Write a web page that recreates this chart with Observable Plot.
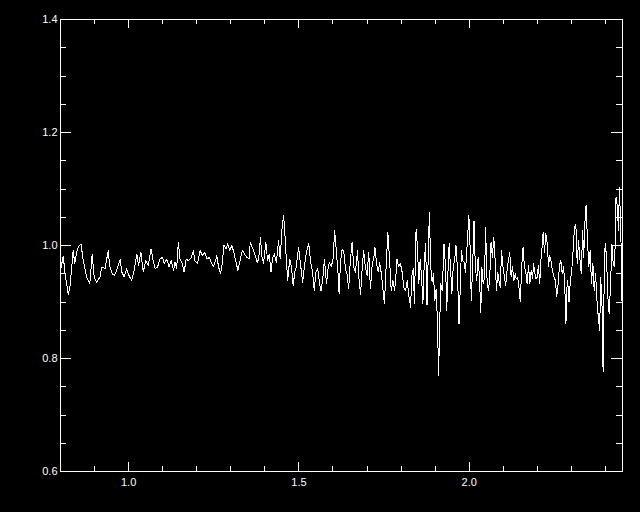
<!DOCTYPE html>
<html>
<head>
<meta charset="utf-8">
<script src="https://cdn.jsdelivr.net/npm/d3@7"></script>
<script src="https://cdn.jsdelivr.net/npm/@observablehq/plot@0.6"></script>
<style>
  html, body { margin: 0; padding: 0; background: #000; }
  #chart { width: 640px; height: 512px; }
</style>
</head>
<body>
<div id="chart"></div>
<script>
// Wavelength (x) and relative flux (y)
const wavelength = [
  0.801,0.808,0.813,0.818,0.823,0.828,0.833,0.837,0.842,0.847,0.852,0.860,0.867,0.877,0.886,0.893,0.899,0.906,0.916,0.921,
  0.931,0.940,0.945,0.952,0.958,0.965,0.975,0.980,0.987,0.994,1.001,1.009,1.016,1.024,1.029,1.036,1.043,1.050,1.058,1.066,
  1.073,1.078,
  1.085,1.092,1.099,1.105,1.112,1.119,1.125,1.132,1.136,1.141,1.146,1.151,1.156,1.163,1.169,1.176,1.184,1.190,1.195,1.202,
  1.210,1.217,1.223,1.230,1.237,1.242,1.249,1.254,1.259,1.264,1.270,1.274,1.280,1.286,1.291,1.297,1.303,1.309,1.315,1.321,
  1.328,1.334,1.340,1.347,1.354,
  1.357,1.365,1.372,1.377,1.382,1.387,1.391,1.396,1.403,1.408,1.413,1.418,1.423,1.428,1.434,1.440,1.445,1.450,1.455,1.458,
  1.463,1.467,1.473,1.478,1.483,1.488,1.492,1.499,1.504,1.511,1.516,1.522,1.529,1.534,1.540,1.545,1.550,1.555,1.560,1.565,
  1.570,1.575,1.581,1.586,1.590,1.595,1.600,1.605,1.610,1.615,1.618,1.622,1.627,1.632,
  1.637,1.641,1.646,1.651,1.656,1.661,1.666,1.672,1.676,1.681,1.686,1.690,1.695,1.700,1.705,1.710,1.715,1.720,1.723,1.728,
  1.733,1.737,1.742,1.747,1.751,1.756,1.761,1.766,1.771,1.776,1.781,1.786,1.788,1.793,1.798,1.803,1.808,1.813,1.818,1.823,
  1.828,1.831,1.836,1.839,1.844,1.848,1.852,1.856,1.860,1.864,1.868,1.872,1.876,1.880,1.883,1.887,1.891,1.895,1.899,1.903,
  1.907,1.910,1.913,1.916,
  1.921,1.926,1.931,1.934,1.937,1.941,1.945,1.949,1.953,1.957,1.961,1.965,1.970,1.973,1.977,1.981,1.985,1.989,1.994,1.999,
  2.002,2.006,2.010,2.014,2.018,2.022,2.026,2.030,2.034,2.037,2.041,2.045,2.048,2.052,2.056,2.060,2.064,2.068,2.072,2.076,
  2.080,2.084,2.087,2.091,2.095,2.099,2.103,2.107,2.111,2.115,2.119,2.123,2.127,2.131,2.135,2.138,2.142,2.146,2.150,2.154,
  2.158,2.162,2.166,2.170,2.174,2.178,2.182,2.186,2.189,2.195,
  2.200,2.203,2.207,2.211,2.214,2.217,2.221,2.225,2.229,2.233,2.236,2.240,2.244,2.249,2.253,2.257,2.261,2.265,2.269,2.273,
  2.277,2.280,2.284,2.286,2.289,2.293,2.297,2.301,2.305,2.309,2.313,2.317,2.321,2.325,2.329,2.333,2.336,2.340,2.343,2.347,
  2.351,2.355,2.359,2.363,2.367,2.371,2.375,2.379,2.383,2.386,2.390,2.393,2.396,2.399,2.403,2.407,2.411,2.415,2.419,2.423,
  2.427,2.431,2.435,2.438,2.441,2.445,2.448,2.450
];
const flux = [
  0.959,0.981,0.953,0.932,0.913,0.929,0.962,0.991,0.968,0.988,0.997,1.003,0.973,0.944,0.932,0.985,0.944,0.935,0.944,0.962,
  0.959,0.991,0.962,0.950,0.947,0.956,0.975,0.953,0.944,0.959,0.947,0.938,0.956,0.985,0.965,0.988,0.953,0.973,0.965,0.994,
  0.970,0.959,
  0.962,0.976,0.979,0.968,0.976,0.962,0.973,0.956,0.971,0.959,1.006,0.976,0.971,0.953,0.976,0.973,0.979,0.991,0.973,0.968,
  0.991,0.982,0.988,0.976,0.979,0.971,0.962,0.971,0.982,0.962,0.950,0.965,1.000,0.994,1.003,0.991,1.000,0.988,0.971,0.956,
  0.976,0.991,0.985,0.979,0.976,
  1.006,0.994,0.982,0.970,0.976,1.015,0.982,0.968,1.006,0.973,0.985,0.953,0.979,0.985,0.970,1.009,0.976,1.027,1.054,1.030,
  0.976,0.938,0.976,0.962,0.929,0.953,0.962,0.997,0.970,0.935,0.962,0.988,1.003,0.973,0.953,0.920,0.953,0.959,0.935,0.919,
  0.941,0.976,0.932,0.962,0.970,0.962,0.976,1.027,0.988,0.950,0.914,0.970,0.994,0.988,
  0.956,0.950,0.923,0.973,1.006,0.962,0.953,0.991,0.944,0.914,0.962,0.991,0.962,0.947,0.988,0.923,0.965,0.979,0.997,0.968,
  0.953,0.970,0.950,0.920,0.897,0.962,1.024,0.976,0.920,0.938,0.920,0.956,0.976,0.962,0.968,0.953,0.926,0.920,0.938,0.909,
  0.891,0.944,0.959,0.897,1.029,0.997,0.932,0.976,0.944,0.897,0.970,1.003,0.894,0.991,1.059,0.962,0.935,0.950,0.903,0.923,
  0.858,0.770,0.850,0.932,
  0.920,1.003,0.956,0.885,0.944,1.003,0.962,0.914,0.962,0.973,1.000,0.962,0.861,0.914,0.991,0.973,0.970,0.953,1.003,1.053,
  1.009,0.903,0.962,1.044,0.962,0.938,0.979,0.944,0.882,0.962,0.932,0.944,1.032,0.944,0.920,0.938,1.006,0.979,1.015,0.976,
  0.920,0.953,0.938,0.926,0.991,0.962,0.947,0.929,0.956,0.973,0.988,0.944,0.962,0.938,0.950,0.941,0.944,0.926,0.900,0.962,
  0.997,0.962,0.953,0.932,0.965,0.932,0.956,0.941,0.968,0.941,
  0.944,0.965,0.932,0.979,0.997,1.024,0.988,1.021,1.003,0.962,0.982,0.973,0.956,0.944,0.938,0.909,0.932,0.965,0.973,0.950,
  0.962,0.938,0.861,0.920,0.938,0.900,0.938,0.956,0.991,1.032,1.038,0.968,1.009,0.976,0.950,1.027,0.979,1.044,1.071,1.012,
  0.962,0.991,0.932,0.968,0.920,0.950,0.903,0.873,0.850,0.944,0.891,0.776,0.926,1.003,0.982,0.909,0.879,0.932,1.003,0.965,
  0.962,1.086,1.068,1.027,1.103,1.027,0.926,0.838
];

// Axis ranges and ticks
const xDomain = [0.8, 2.45];
const yDomain = [0.6, 1.4];
const xMajor = [1.0, 1.5, 2.0];
const xMinor = [0.9, 1.1, 1.2, 1.3, 1.4, 1.6, 1.7, 1.8, 1.9, 2.1, 2.2, 2.3, 2.4];
const yMajor = [0.6, 0.8, 1.0, 1.2, 1.4];
const yMinor = [0.65, 0.7, 0.75, 0.85, 0.9, 0.95, 1.05, 1.1, 1.15, 1.25, 1.3, 1.35];

const data = wavelength.map((w, i) => ({w, f: flux[i]})).filter(d => d.f != null);

const W = 640, H = 512;
const mL = 60, mR = 18, mT = 19, mB = 41;
const innerW = W - mL - mR, innerH = H - mT - mB;

const xTicks = (vals, len) => [
  Plot.tickX(vals, {x: d => d, stroke: "white", strokeWidth: 1, insetTop: innerH - len, shapeRendering: "crispEdges"}),
  Plot.tickX(vals, {x: d => d, stroke: "white", strokeWidth: 1, insetBottom: innerH - len, shapeRendering: "crispEdges"})
];
const yTicks = (vals, len) => [
  Plot.tickY(vals, {y: d => d, stroke: "white", strokeWidth: 1, insetRight: innerW - len, shapeRendering: "crispEdges"}),
  Plot.tickY(vals, {y: d => d, stroke: "white", strokeWidth: 1, insetLeft: innerW - len, shapeRendering: "crispEdges"})
];

const chart = Plot.plot({
  width: W,
  height: H,
  marginLeft: mL,
  marginRight: mR,
  marginTop: mT,
  marginBottom: mB,
  style: {background: "black", color: "white", fontFamily: "'Liberation Sans', 'DejaVu Sans', sans-serif", fontSize: "11px"},
  x: {domain: xDomain},
  y: {domain: yDomain},
  marks: [
    Plot.line(data, {x: "w", y: "f", stroke: "white", strokeWidth: 1, clip: true, shapeRendering: "crispEdges"}),
    ...xTicks(xMinor, 5),
    ...xTicks(xMajor, 9),
    ...yTicks(yMinor, 6),
    ...yTicks(yMajor, 11),
    Plot.frame({stroke: "white", strokeWidth: 1, shapeRendering: "crispEdges"}),
    Plot.axisX({ticks: xMajor, tickSize: 0, tickPadding: 7, tickFormat: d3.format(".1f"), label: null, fill: "white"}),
    Plot.axisY({ticks: yMajor, tickSize: 0, tickPadding: 3, tickFormat: d3.format(".1f"), label: null, fill: "white"})
  ]
});
document.getElementById("chart").appendChild(chart);
</script>
</body>
</html>
